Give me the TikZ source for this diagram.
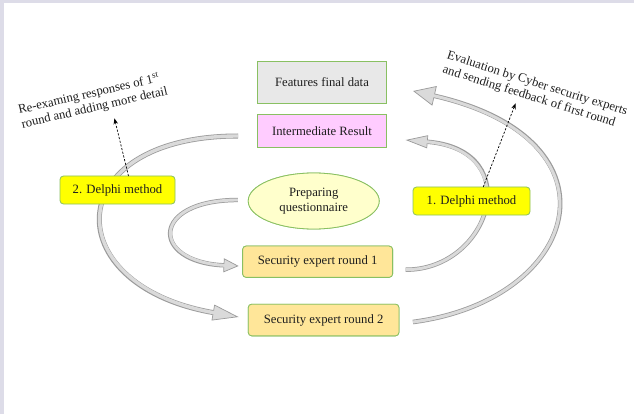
\documentclass[tikz,border=0pt]{standalone}
\usepackage{fontspec}
\setmainfont{Liberation Serif}
\usetikzlibrary{arrows.meta,calc,shapes.geometric}

\definecolor{frame}{RGB}{221,220,232}
\definecolor{edgegreen}{RGB}{137,192,98}
\definecolor{txt}{RGB}{30,30,30}
\definecolor{featfill}{RGB}{232,232,232}
\definecolor{interfill}{RGB}{255,204,255}
\definecolor{prepfill}{RGB}{255,255,204}
\definecolor{roundfill}{RGB}{255,230,153}
\definecolor{delphifill}{RGB}{255,255,0}
\definecolor{bandedge}{RGB}{155,155,155}
\definecolor{bandfill}{RGB}{218,218,218}

\tikzset{
  every node/.style={font=\fontsize{12.7}{14.5}\selectfont, text=txt},
  box/.style={draw=edgegreen, line width=0.8pt, inner sep=0pt, outer sep=0pt},
  roundbox/.style={box, rounded corners=3.5pt},
  band/.style={draw=bandedge, line width=#1, line cap=butt},
  bandcore/.style 2 args={postaction={draw=bandfill, line width=#1, -, shorten >=#2}},
  head/.style n args={2}{-{Triangle[length=#1, width=#2, fill=bandfill, line width=0.7pt]}},
  note/.style={draw=black, line width=0.7pt, dashed, dash pattern=on 2.2pt off 1.6pt,
    -{Stealth[length=6pt, width=4.5pt]}},
  notetext/.style={align=left, inner sep=0pt}
}

\begin{document}
\begin{tikzpicture}[x=1pt, y=-1pt]
  % page background with the thin tinted frame at the top and left
  \fill[frame] (0,0) rectangle (634,414);
  \fill[white] (4,3) rectangle (634,414);
  \useasboundingbox (0,0) rectangle (634,414);

  % stage boxes (named first so the bands can attach to them)
  \path
    (322,82.5)   node[box, fill=featfill, minimum width=128.6pt, minimum height=41.6pt] (ff) {Features final data}
    (322,131)    node[box, fill=interfill, minimum width=128.6pt, minimum height=33.7pt] (ir) {Intermediate Result}
    (313.7,201)  node[box, ellipse, fill=prepfill, minimum width=131pt, minimum height=56pt, align=center] (pq) {Preparing\\questionnaire}
    (317.6,261.7) node[roundbox, fill=roundfill, minimum width=150pt, minimum height=31.3pt] (sr1) {Security expert round 1}
    (323.6,320)  node[roundbox, fill=roundfill, minimum width=150.7pt, minimum height=31.7pt] (sr2) {Security expert round 2};

  % curved block arrows between the stages
  \draw[band=4.4pt, head={15pt}{14pt}, bandcore={2.9pt}{13pt}]
    ($(pq.west)+(-10.3,-1)$) .. controls (150,200) and (150,262) .. ($(sr1.west)+(-4,4.3)$);
  \draw[band=5pt, head={26pt}{16pt}, bandcore={3.4pt}{24pt}]
    ($(ir.west)+(-19.6,5)$) .. controls (60,136) and (55,285) .. ($(sr2.west)+(-9.7,-3)$);
  \draw[band=4.4pt, head={22pt}{13pt}, bandcore={2.9pt}{20pt}]
    ($(sr1.east)+(13,8)$) .. controls (490,270) and (528,150) .. ($(ir.east)+(19.4,9)$);
  \draw[band=4.6pt, head={22pt}{20pt}, bandcore={3pt}{20pt}]
    ($(sr2.east)+(14,2)$) .. controls (580,300) and (628,140) .. ($(ff.east)+(26.8,8.5)$);

  % the boxes again, above the bands
  \path
    (322,82.5)   node[box, fill=featfill, minimum width=128.6pt, minimum height=41.6pt] {Features final data}
    (322,131)    node[box, fill=interfill, minimum width=128.6pt, minimum height=33.7pt] {Intermediate Result}
    (313.7,201)  node[box, ellipse, fill=prepfill, minimum width=131pt, minimum height=56pt, align=center] {Preparing\\questionnaire}
    (317.6,261.7) node[roundbox, fill=roundfill, minimum width=150pt, minimum height=31.3pt] {Security expert round 1}
    (323.6,320)  node[roundbox, fill=roundfill, minimum width=150.7pt, minimum height=31.7pt] {Security expert round 2};

  % Delphi stages
  \node[roundbox, fill=delphifill, minimum width=115pt, minimum height=28pt] (d2) at (117.5,190) {2. Delphi method};
  \node[roundbox, fill=delphifill, minimum width=117pt, minimum height=28pt] (d1) at (471.5,201) {1. Delphi method};

  % explanatory notes
  \coordinate (lt) at (114.4,118.3);
  \coordinate (rt) at (515.6,103.3);
  \draw[note] ($(d2.north)+(11,0)$) -- (lt);
  \draw[note] ($(d1.north)+(11.7,0)$) -- (rt);

  \node[notetext, rotate=13] (ln) at (93,101)
    {Re-examing responses of 1\textsuperscript{st}\\round and adding more detail};
  \node[notetext, rotate=-17.5] (rn) at (535,91)
    {Evaluation by Cyber security experts\\and sending feedback of first round};
\end{tikzpicture}
\end{document}
